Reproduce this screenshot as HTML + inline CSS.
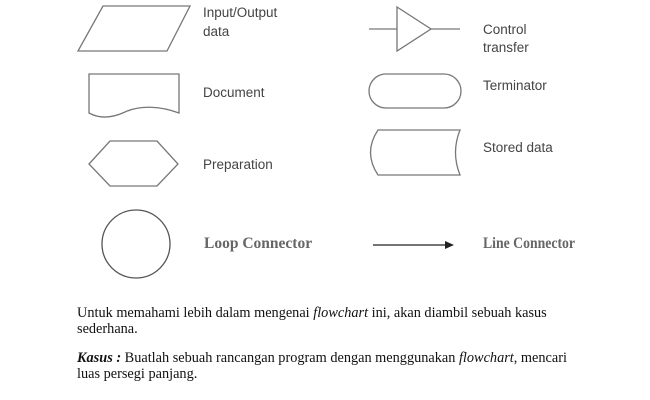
<!DOCTYPE html>
<html><head><meta charset="utf-8"><style>
html,body{margin:0;padding:0;background:#fff;width:650px;height:400px;overflow:hidden}
svg{position:absolute;left:0;top:0}
.p{position:absolute;left:77px;font-family:"Liberation Serif",serif;font-size:14.3px;line-height:16px;color:#111;white-space:nowrap}
</style></head><body>
<svg width="650" height="400" viewBox="0 0 650 400">
<g fill="none" stroke="#777" stroke-width="1.3">
<polygon points="103,6 190,6 167,51 78,51"/>
<path d="M89,74 H179 V113 C160,106 140,105 125,112 C110,119 98,118 89,113 Z"/>
<polygon points="89,164 110,141 157,141 178,164 157,186 110,186"/>
<line x1="369" y1="29" x2="397" y2="29"/><line x1="431" y1="29" x2="460" y2="29"/>
<polygon points="397,7 431,29 397,51"/>
<rect x="369" y="74" width="92" height="34" rx="17"/>
<path d="M378,130 H460 C454,145 454,160 460,175 H378 C368,160 368,145 378,130 Z"/>
<circle cx="136" cy="244" r="34" stroke="#555"/>
</g>
<line x1="373" y1="245" x2="446" y2="245" stroke="#222" stroke-width="1.3"/>
<polygon points="445,241 454,245 445,249" fill="#222"/>
<g font-family="Liberation Sans,sans-serif" font-size="13.5" fill="#444">
<text x="203" y="17">Input/Output</text><text x="203" y="36">data</text>
<text x="203" y="97">Document</text>
<text x="203" y="169">Preparation</text>
<text x="483" y="34">Control</text><text x="483" y="52">transfer</text>
<text x="483" y="90">Terminator</text>
<text x="483" y="152">Stored data</text>
</g>
<g font-family="Liberation Serif,serif" font-size="15.5" font-weight="bold" fill="#666">
<text x="204" y="248">Loop Connector</text>
<text x="483" y="248" textLength="92" lengthAdjust="spacingAndGlyphs">Line Connector</text>
</g>
</svg>
<div class="p" style="top:305px">Untuk memahami lebih dalam mengenai <i>flowchart</i> ini, akan diambil sebuah kasus<br>sederhana.</div>
<div class="p" style="top:350px"><b><i>Kasus :</i></b> Buatlah sebuah rancangan program dengan menggunakan <i>flowchart</i>, mencari<br>luas persegi panjang.</div>
</body></html>
